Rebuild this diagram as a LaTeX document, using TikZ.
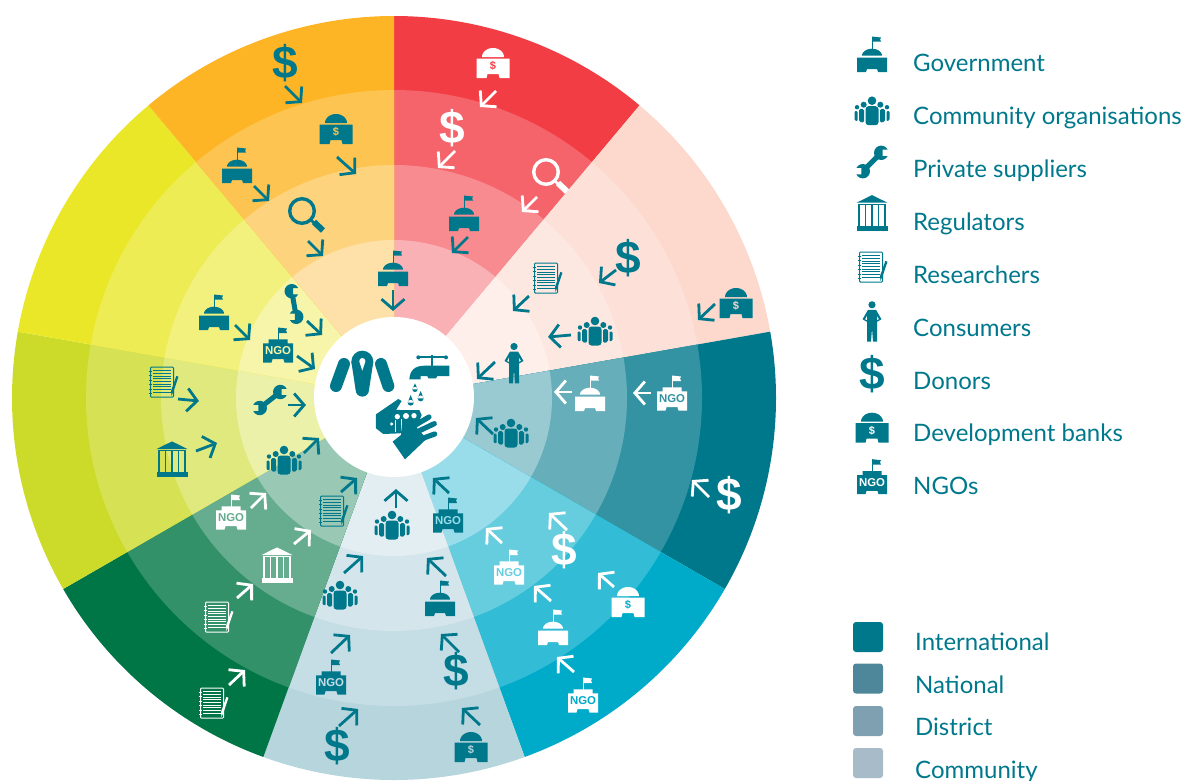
\documentclass[tikz,border=0pt]{standalone}
\usepackage{fontspec}
\setmainfont{Lato}
\newfontfamily\iconfont{Liberation Sans}
\usetikzlibrary{arrows.meta}

\definecolor{icontl}{HTML}{00788C}
\definecolor{redseg}{HTML}{F23D45}
\definecolor{pinkseg}{HTML}{FCD8CD}
\definecolor{tealseg}{HTML}{00788C}
\definecolor{blueseg}{HTML}{00ABCA}
\definecolor{paleseg}{HTML}{B7D5DD}
\definecolor{greenseg}{HTML}{007545}
\definecolor{limeseg}{HTML}{CCDB29}
\definecolor{yellowseg}{HTML}{EAE729}
\definecolor{orangeseg}{HTML}{FDB526}
\colorlet{iconfg}{icontl}
\colorlet{iconbg}{white}

\tikzset{
    fg/.code={\colorlet{iconfg}{#1}},
    bg/.code={\colorlet{iconbg}{#1}},
    flowteal/.style={line width=2.8pt, draw=icontl, -{Straight Barb[length=10pt,width=23pt,line width=2.8pt]}},
    flowwhite/.style={flowteal, draw=white},
    legendtext/.style={anchor=base west, inner sep=0pt, text=icontl, font=\fontsize{24}{24}\selectfont},
    swatch/.style={rounded corners=3pt},
    flagpole/.pic={
        \draw[iconfg, line width=1pt] (0,-5) to (0,-17.5);
        \fill[iconfg] (0,-17.5) -- (9,-16.5) -- (8,-14.5) -- (9,-12.5) -- (0,-12.5) -- cycle;
    },
    gov/.pic={
        \pic {flagpole};
        \fill[iconfg] (-10,1.7) -- plot[domain=180:0,samples=15] ({10*cos(\x)},{1.7-7*sin(\x)}) -- cycle;
        \fill[iconfg] (-15,3.5) -- (15,3.5) -- (15,18) -- (6,18) -- (5,15) -- (-5,15) -- (-6,18) -- (-15,18) -- cycle;
    },
    bank/.pic={
        \fill[iconfg] (-11,-6) -- plot[domain=180:0,samples=15] ({11*cos(\x)},{-6-9*sin(\x)}) -- cycle;
        \fill[iconfg] (-16.5,-4.5) -- (16.5,-4.5) -- (16.5,15) -- (6.5,15) -- (5.5,11) -- (-5.5,11) -- (-6.5,15) -- (-16.5,15) -- cycle;
        \node[inner sep=0pt, text=iconbg, font=\iconfont\bfseries\fontsize{11}{11}\selectfont] (banktext) at (0,3) {\$};
    },
    ngo/.pic={
        \draw[iconfg, line width=1pt] (0,-5) to (0,-17.5);
        \fill[iconfg] (0,-17.5) -- (9,-16.5) -- (8,-14.5) -- (9,-12) -- (0,-12) -- cycle;
        \fill[iconfg] (-9.5,-5.7) -- (9.5,-5.7) -- (9.5,-1.7) -- (15,-1.7) -- (15,17.5) -- (6.5,17.5) -- (5.5,14.2) -- (-5.5,14.2) -- (-6.5,17.5) -- (-15,17.5) -- (-15,-1.7) -- (-9.5,-1.7) -- cycle;
        \node[inner sep=0pt, text=iconbg, font=\iconfont\bfseries\fontsize{11.4}{11.4}\selectfont] (ngotext) at (0,6) {NGO};
    },
    dollar/.pic={
        \node[inner sep=0pt, text=iconfg, font=\iconfont\bfseries\fontsize{46}{46}\selectfont] (dollartext) at (0,0) {\$};
    },
    crowd/.pic={
        \fill[iconfg] (0,-10) circle (4.3) (-8.3,-6) circle (3) (8.3,-6) circle (3) (-15,-3.5) circle (2.2) (15,-3.5) circle (2.2);
        \fill[iconfg, rounded corners=3pt] (-6.5,14.5) -- (-6.5,-4.5) -- (6.5,-4.5) -- (6.5,14.5) -- cycle;
        \fill[iconfg, rounded corners=1.5pt] (-8,12) -- (-8,-1.8) -- (-13,-1.8) -- (-13,11) -- cycle;
        \fill[iconfg, rounded corners=1.5pt] (8,12) -- (8,-1.8) -- (13,-1.8) -- (13,11) -- cycle;
        \fill[iconfg, rounded corners=1pt] (-14.5,10.5) -- (-14.5,0.5) -- (-17.5,0.5) -- (-17.5,9.5) -- cycle;
        \fill[iconfg, rounded corners=1pt] (14.5,10.5) -- (14.5,0.5) -- (17.5,0.5) -- (17.5,9.5) -- cycle;
    },
    wrenchhead/.pic={
        \fill[iconfg] (6.45,3.2) -- (1.5,3.2) -- (1.5,-3.2) -- (6.45,-3.2) -- plot[domain=-26:-334,samples=15] (\x:7.2) -- cycle;
    },
    wrench/.pic={
        \draw[iconfg, line width=5pt] (-9,0) to (9,0);
        \pic at (13,0) {wrenchhead};
        \pic[rotate=180] at (-13,0) {wrenchhead};
    },
    temple/.pic={
        \fill[iconfg] (0,-17.6) -- (15.5,-10) -- (-15.5,-10) -- cycle;
        \fill[iconfg] (-14,-9) rectangle (14,-7.8);
        \fill[iconfg] (-15.5,13) rectangle (15.5,18);
        \foreach \colx in {-13,-6.5,0,6.5,13} {
            \fill[iconfg] (\colx-0.75,-7.8) rectangle (\colx+0.75,13);
        }
    },
    notebook/.pic={
        \draw[iconfg, line width=1pt, rounded corners=1pt] (-11.5,-15) rectangle (11.5,15.2);
        \foreach \liney in {-11.5,-8.8,...,10.5} {
            \draw[iconfg, line width=0.7pt] (-8.7,\liney) to (8.7,\liney);
        }
        \foreach \liney in {-11,-6.5,...,12} {
            \draw[iconfg, line width=0.8pt] (-13.2,\liney) to (-10.5,\liney);
        }
        \fill[iconfg] (14.3,-6) -- (16.5,-5.3) -- (11.5,9.5) -- (9.5,13.8) -- (9,9) -- cycle;
    },
    person/.pic={
        \fill[iconfg] (0,-16.5) circle (3.6);
        \fill[iconfg, even odd rule] (-4,-11.5) -- (4,-11.5) -- (9.5,-2) -- (5,0.5) -- (5,20.3) -- (1,20.3) -- (0,7) -- (-1,20.3) -- (-5,20.3) -- (-5,0.5) -- (-9.5,-2) -- cycle
            (-5,-6) -- (-7,-2) -- (-5,-1) -- cycle (5,-6) -- (7,-2) -- (5,-1) -- cycle;
    },
    lens/.pic={
        \draw[iconfg, line width=3.4pt] (0,0) circle (12.3);
        \draw[iconfg, line width=2.5pt] (8.5,8.5) to (13,13);
        \draw[iconfg, line width=6pt] (12,11) to (21,19.5);
    },
}

\begin{document}
\begin{tikzpicture}[x=1pt, y=-1pt]
    \useasboundingbox (0,0) rectangle (1188,780);

    %% Wheel
    \foreach \col [count=\i from 0] in {redseg,pinkseg,tealseg,blueseg,paleseg,greenseg,limeseg,yellowseg,orangeseg} {
        \pgfmathsetmacro\angA{90-40*\i}
        \pgfmathsetmacro\angB{50-40*\i}
        \foreach \rad/\tint in {382/100,308/80,233/60,158/40} {
            \fill[\col!\tint!white] (394,398) -- ++(\angA:\rad pt) arc[start angle=\angA, end angle=\angB, radius=\rad pt] -- cycle;
        }
    }
    \fill[white] (394,397) circle (80);

    %% Orange
    \pic at (285,63) {dollar};
    \draw[flowteal] (285,86) to (302,103);
    \pic[bg=orangeseg!80!white] at (336,129) {bank};
    \draw[flowteal] (337,157) to (356,174);
    \pic at (237,165) {gov};
    \draw[flowteal] (254,186) to (269,201);
    \pic at (302,211) {lens};
    \draw[flowteal] (308,241) to (323,256);
    \pic at (393,268) {gov};
    \draw[flowteal] (393,290) to (393,311);

    %% Red
    \pic[fg=white,bg=redseg] at (493,63) {bank};
    \draw[flowwhite] (496,91) to (480,107);
    \pic[fg=white] at (452,128) {dollar};
    \draw[flowwhite] (455,151) to (438,168);
    \pic[fg=white] at (546,172) {lens};
    \draw[flowwhite] (537,197) to (522,212);
    \pic at (464,213) {gov};
    \draw[flowteal] (468,237) to (452,253);

    %% Pink
    \pic[bg=pinkseg] at (736,303) {bank};
    \draw[flowteal] (715,304) to (698,320);
    \pic at (628,258) {dollar};
    \draw[flowteal] (616,270) to (599,283);
    \pic at (546,278) {notebook};
    \draw[flowteal] (529,296) to (513,311);
    \pic at (595,331) {crowd};
    \draw[flowteal] (571,335) to (548,337);
    \pic at (514,363) {person};
    \draw[flowteal] (495,362) to (477,379);

    %% Teal
    \pic[fg=white] at (729,495) {dollar};
    \draw[flowwhite] (709,497) to (692,480);
    \pic[fg=white,bg=tealseg!80!white] at (672,393) {ngo};
    \draw[flowwhite] (651,393) to (633,393);
    \pic[fg=white] at (590,393) {gov};
    \draw[flowwhite] (572,392) to (554,392);
    \pic at (511,433) {crowd};
    \draw[flowteal] (493,434) to (476,418);

    %% Blue
    \pic[fg=white,bg=blueseg] at (583,695) {ngo};
    \draw[flowwhite] (574,672) to (557,657);
    \pic[fg=white,bg=blueseg] at (628,602) {bank};
    \draw[flowwhite] (614,587) to (598,573);
    \pic[fg=white] at (553,627) {gov};
    \draw[flowwhite] (551,601) to (534,586);
    \pic[fg=white] at (564,550) {dollar};
    \draw[flowwhite] (567,530) to (549,513);
    \pic[fg=white,bg=blueseg!60!white] at (509,567) {ngo};
    \draw[flowwhite] (502,543) to (486,528);
    \pic[bg=blueseg!40!white] at (448,515) {ngo};
    \draw[flowteal] (449,493) to (433,478);

    %% Pale
    \pic[bg=paleseg] at (471,747) {bank};
    \draw[flowteal] (480,725) to (462,708);
    \pic at (456,671) {dollar};
    \draw[flowteal] (459,652) to (441,634);
    \pic at (440,598) {gov};
    \draw[flowteal] (446,576) to (427,558);
    \pic at (337,746) {dollar};
    \draw[flowteal] (339,726) to (358,709);
    \pic[bg=paleseg!80!white] at (331,677) {ngo};
    \draw[flowteal] (331,653) to (350,635);
    \pic at (340,595) {crowd};
    \draw[flowteal] (344,573) to (363,556);
    \pic at (392,525) {crowd};
    \draw[flowteal] (396,508) to (396,489);

    %% Green
    \pic[fg=white] at (212,703) {notebook};
    \draw[flowwhite] (229,685) to (245,670);
    \pic[fg=white] at (217,617) {notebook};
    \draw[flowwhite] (237,598) to (253,584);
    \pic[fg=white] at (277,565) {temple};
    \draw[flowwhite] (294,544) to (311,530);
    \pic[fg=white,bg=greenseg!60!white] at (231,512) {ngo};
    \draw[flowwhite] (251,508) to (266,493);
    \pic at (332,511) {notebook};
    \draw[flowteal] (341,492) to (357,478);

    %% Lime
    \pic at (162,382) {notebook};
    \draw[flowteal] (178,399) to (199,401);
    \pic at (172,459) {temple};
    \draw[flowteal] (196,451) to (217,443);
    \pic[rotate=38] at (270,400) {wrench};
    \draw[flowteal] (288,405) to (306,405);
    \pic at (284,460) {crowd};
    \draw[flowteal] (304,453) to (319,438);

    %% Yellow
    \pic at (214,312) {gov};
    \draw[flowteal] (235,325) to (250,340);
    \pic[bg=yellowseg!40!white] at (278,345) {ngo};
    \draw[flowteal] (297,356) to (315,369);
    \pic[rotate=100] at (294,304) {wrench};
    \draw[flowteal] (307,321) to (322,335);

    %% Centre
    \begin{scope}[shift={(300,300)}, x=0.3333pt, y=-0.3333pt]
        \draw[icontl, line width=12pt, line cap=round] (132,192) to (108,258);
        \draw[icontl, line width=12pt, line cap=round] (243,192) to (265,258);
        \fill[icontl] (187,185) circle (33);
        \fill[icontl] (154,185) -- (220,185) -- (207,270) -- (167,270) -- cycle;
        \fill[icontl] (187,270) circle (20);
        \fill[white] (187,183) circle (9) (178,185) -- (196,185) -- (187,212) -- cycle;
        % tap
        \fill[icontl] (448,197) -- (375,197) .. controls (345,197) and (330,210) .. (328,238) -- (362,238) -- (362,228) -- (382,228) -- (385,235) -- (408,235) -- (412,228) -- (448,228) -- cycle;
        \draw[icontl, line width=2pt] (355,172) to (438,172);
        \draw[icontl, line width=2.5pt] (396,165) to (396,197);
        \fill[icontl] (355,172) circle (6) (438,172) circle (6);
        \foreach \dx/\dy/\dl/\dr in {345/250/18/8,332/285/23/9,362/273/22/9} {
            \fill[icontl] (\dx,\dy) -- ({\dx-\dr},{\dy+\dl}) -- ({\dx+\dr},{\dy+\dl}) -- cycle ({\dx},{\dy+\dl}) circle (\dr);
        }
        % hands
        \fill[icontl] (228,343) -- (295,297) -- (305,303) -- (288,330) -- (358,330) -- (365,345) -- (355,370) -- (300,400) -- (250,402) -- (228,385) -- cycle;
        \fill[white] (300,325) rectangle (362,331);
        \fill[white] (292,350) circle (8) (318,348) circle (9) (342,347) circle (8) (275,372) circle (5);
        \draw[white, line width=1pt] (287,360) to (287,397);
        \draw[white, line width=1pt] (304,358) to (304,392);
        \fill[icontl] (306,368) -- (345,358) -- (352,385) -- (370,405) -- (378,418) -- (315,478) -- (278,425) -- (303,405) -- cycle;
        \draw[icontl, line width=5.2pt, line cap=round] (335,382) to (387,351);
        \draw[icontl, line width=5.2pt, line cap=round] (348,397) to (403,371);
        \draw[icontl, line width=5.2pt, line cap=round] (360,418) to (404,402);
    \end{scope}

    %% Legend of actors
    \pic at (872,54) {gov};
    \node[legendtext] (lgov) at (913,71.7) {Government};
    \pic at (872,110.7) {crowd};
    \node[legendtext] (lcrowd) at (913,124.5) {Community organisations};
    \pic[rotate=45] at (872,162) {wrench};
    \node[legendtext] (lwrench) at (913,177.3) {Private suppliers};
    \pic at (872,212.7) {temple};
    \node[legendtext] (ltemple) at (913,230.2) {Regulators};
    \pic at (871,267) {notebook};
    \node[legendtext] (lnotebook) at (913,283.2) {Researchers};
    \pic at (872,321.3) {person};
    \node[legendtext] (lperson) at (913,336) {Consumers};
    \pic at (872,373.7) {dollar};
    \node[legendtext] (ldollar) at (913,389) {Donors};
    \pic at (872,427.7) {bank};
    \node[legendtext] (lbank) at (913,441.7) {Development banks};
    \pic at (872,476.7) {ngo};
    \node[legendtext] (lngo) at (913,494.4) {NGOs};

    %% Legend of levels
    \fill[swatch, fill={rgb,255:red,0;green,120;blue,140}] (853,622) rectangle (883,652);
    \node[legendtext] (lint) at (915,650.7) {International};
    \fill[swatch, fill={rgb,255:red,78;green,135;blue,153}] (853,663.5) rectangle (883,693.5);
    \node[legendtext] (lnat) at (915,693.3) {National};
    \fill[swatch, fill={rgb,255:red,127;green,160;blue,176}] (853,706) rectangle (883,736);
    \node[legendtext] (ldist) at (915,735.2) {District};
    \fill[swatch, fill={rgb,255:red,168;green,187;blue,200}] (853,748) rectangle (883,778);
    \node[legendtext] (lcomm) at (915,778) {Community};
\end{tikzpicture}
\end{document}
